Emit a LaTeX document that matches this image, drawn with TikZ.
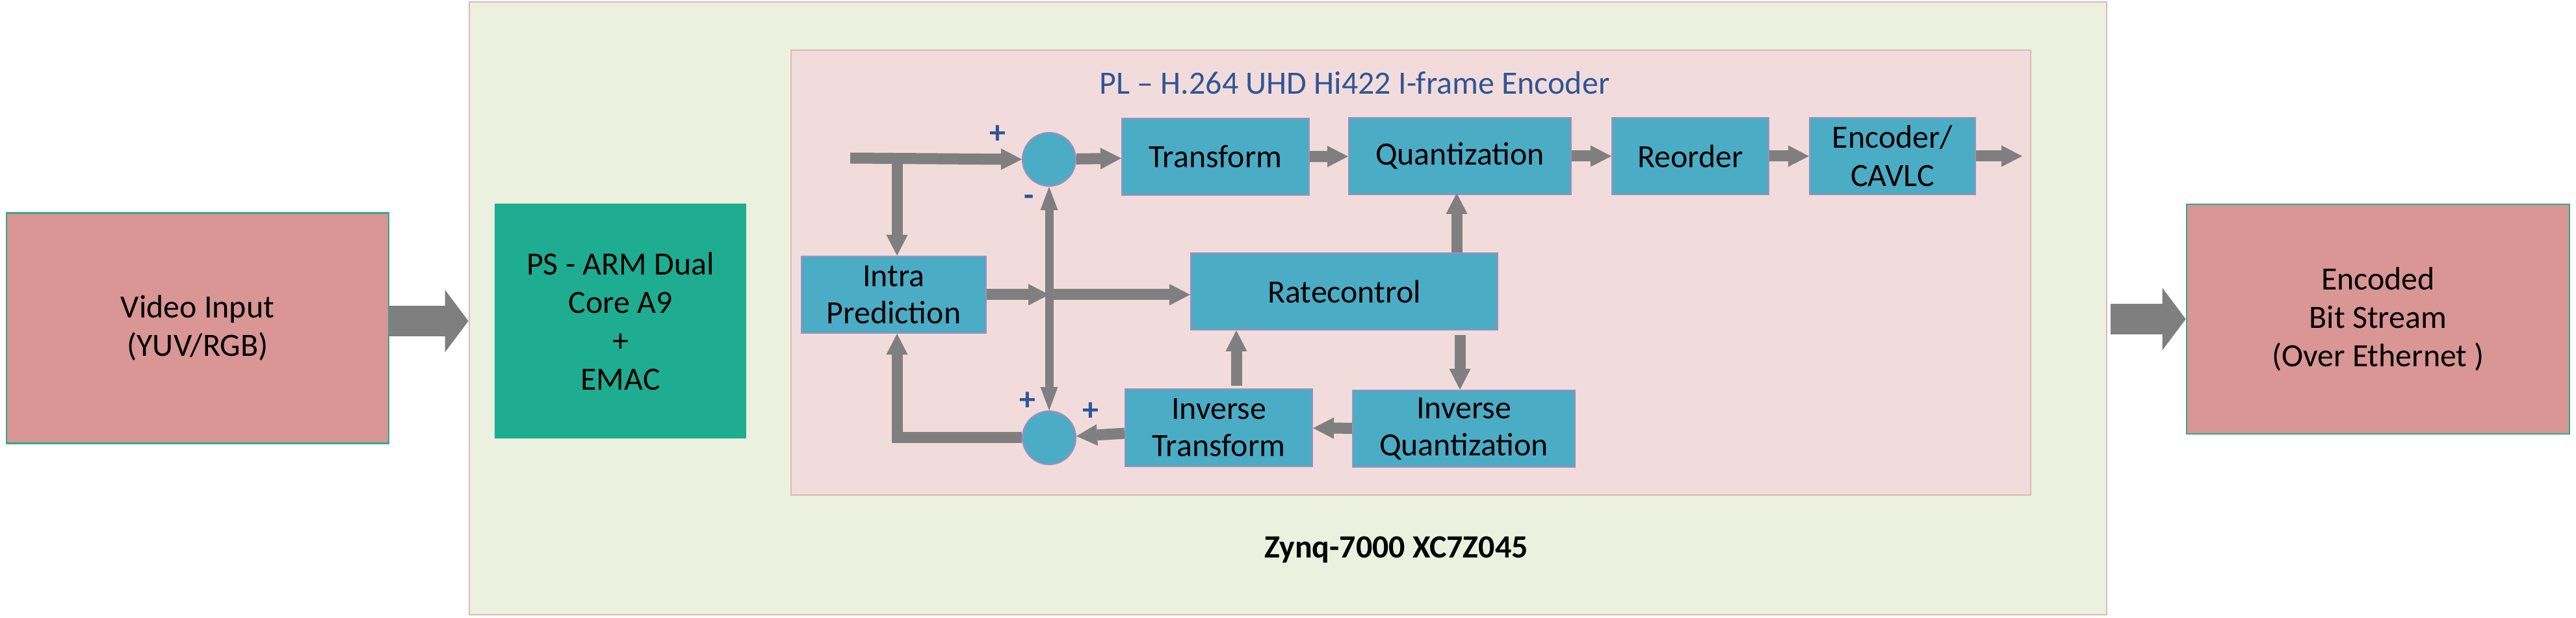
\documentclass[tikz,border=0pt]{standalone}
\usepackage{fontspec}
\setmainfont{Carlito}
\usetikzlibrary{arrows.meta}
\definecolor{iofill}{HTML}{D99694}
\definecolor{ioedge}{HTML}{31A98F}
\definecolor{chipfill}{HTML}{EBF1DE}
\definecolor{chipedge}{HTML}{E0B8B6}
\definecolor{psfill}{HTML}{1FAD92}
\definecolor{plfill}{HTML}{F2DCDB}
\definecolor{blockfill}{HTML}{4BACC6}
\definecolor{blockedge}{HTML}{9E8FBF}
\definecolor{signblue}{HTML}{2F5597}
\definecolor{flowgray}{HTML}{7F7F7F}
\begin{document}
\begin{tikzpicture}[
    font=\fontsize{14.2}{16.8}\selectfont,
    block/.style={draw=blockedge, line width=0.6pt, fill=blockfill, inner sep=0pt,
        align=center, minimum height=1.18cm},
    ioblock/.style={draw=ioedge, line width=0.8pt, fill=iofill, inner sep=0pt,
        align=center, minimum width=5.88cm, minimum height=3.54cm},
    adder/.style={circle, draw=blockedge, line width=0.6pt, fill=blockfill,
        minimum size=0.82cm, inner sep=0pt},
    sign/.style={text=signblue, font=\fontsize{14.2}{16.8}\selectfont\bfseries, inner sep=0pt},
    flow/.style={draw=flowgray, line width=0.17cm,
        -{Triangle[width=0.33cm,length=0.32cm,line width=0pt]}},
    thinflow/.style={draw=flowgray, line width=0.13cm,
        -{Triangle[width=0.27cm,length=0.36cm,line width=0pt]}},
    bigflow/.style={draw=flowgray, line width=0.47cm,
        -{Triangle[width=0.96cm,length=0.36cm,line width=0pt]}}
]
    \useasboundingbox[fill=white] (0,0) rectangle (39.63,9.5);

    % Zynq device and PL region
    \node[draw=chipedge, line width=0.8pt, fill=chipfill, minimum width=25.19cm,
        minimum height=9.42cm] (zynq) at (19.815,4.76) {};
    \node[draw=chipedge, line width=0.8pt, fill=plfill, minimum width=19.07cm,
        minimum height=6.84cm] (pl) at (21.705,5.31) {};
    \node[text=signblue] (title) at (20.84,8.23) {PL -- H.264 UHD Hi422 I-frame Encoder};
    \node[font=\fontsize{14.2}{16.8}\selectfont\bfseries] (chipname) at (21.48,1.05) {Zynq-7000 XC7Z045};

    % Outside blocks
    \node[ioblock] (vin) at (3.04,4.455) {Video Input\\(YUV/RGB)};
    \node[ioblock, minimum width=5.89cm, minimum height=3.53cm] (bits) at (36.585,4.595)
        {Encoded\\Bit Stream\\(Over Ethernet )};
    \node[fill=psfill, minimum width=3.87cm, minimum height=3.61cm, align=center] (ps)
        at (9.545,4.565) {PS - ARM Dual\\Core A9\\+\\EMAC};

    % Encoder blocks
    \node[block, minimum width=2.88cm] (transform) at (18.70,7.09) {Transform};
    \node[block, minimum width=3.42cm] (quant) at (22.46,7.10) {Quantization};
    \node[block, minimum width=2.41cm] (reorder) at (26.005,7.10) {Reorder};
    \node[block, minimum width=2.55cm] (cavlc) at (29.115,7.10) {Encoder/\\CAVLC};
    \node[block, minimum width=2.84cm, font=\fontsize{14.2}{16.2}\selectfont] (intra)
        at (13.75,4.97) {Intra\\Prediction};
    \node[block, minimum width=4.72cm] (rate) at (20.68,5.02) {Ratecontrol};
    \node[block, minimum width=2.88cm, minimum height=1.19cm,
        font=\fontsize{14.2}{16.2}\selectfont] (invt) at (18.75,2.925) {Inverse\\Transform};
    \node[block, minimum width=3.42cm, font=\fontsize{14.2}{16.2}\selectfont] (invq)
        at (22.52,2.91) {Inverse\\Quantization};
    \node[adder] (diff) at (16.14,7.05) {};
    \node[adder] (recon) at (16.14,2.77) {};

    % Signs at the adders
    \node[sign] (diffplus) at (15.35,7.43) {+};
    \node[sign] (diffminus) at (15.83,6.42) {-};
    \node[sign] (reconplus) at (15.81,3.33) {+};
    \node[sign] (reconplusb) at (16.78,3.17) {+};

    \coordinate (src) at (13.08,7.07);
    \coordinate (split) at (13.80,7.07);
    \coordinate (jn) at (16.14,4.97);
    \coordinate (out) at (31.11,7.10);

    % Forward path
    \draw[flow] (src) -- (diff.west);
    \draw[flow] (split) -- (split |- intra.north);
    \draw[flow] (diff) -- (transform);
    \draw[flow] (transform) -- (quant);
    \draw[flow] (quant) -- (reorder);
    \draw[flow] (reorder) -- (cavlc);
    \draw[flow] (cavlc) -- (out);

    % Prediction and rate control
    \draw[flow] (intra.east |- jn) -- (jn);
    \draw[flow] (jn) -- (jn -| rate.west);
    \draw[thinflow] (jn) -- (diff.south);
    \draw[thinflow] (jn) -- (recon.north);
    \draw[flow] (quant.south |- rate.north) ++(-0.05,0) -- ++(0,0.91);
    \draw[flow] ([yshift=-0.07cm]rate.south -| quant.south) -- (invq.north -| quant.south);
    \draw[flow] ([xshift=0.27cm,yshift=0.04cm]invt.north) -- ([xshift=0.27cm]invt.north |- rate.south);

    % Reconstruction loop
    \draw[flow] (invq) -- (invt);
    \draw[flow] (invt) -- (recon);
    \draw[flow] (recon.west) -| (split |- intra.south);

    % Device input and output
    \draw[bigflow] (vin.east |- ps.west) -- (zynq.west |- ps.west);
    \draw[bigflow] ([xshift=0.05cm]zynq.east |- bits.west) -- (bits.west);
\end{tikzpicture}
\end{document}
